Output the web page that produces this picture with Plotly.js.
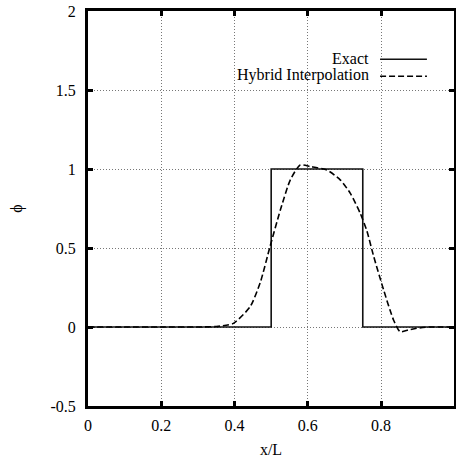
<!DOCTYPE html>
<html>
<head>
<meta charset="utf-8">
<script src="https://cdn.plot.ly/plotly-3.0.1.min.js"></script>
<style>html,body{margin:0;padding:0;background:#fff;}#chart{width:456px;height:459px;}</style>
</head>
<body>
<div id="chart"></div>
<script>
// Exact solution (step)
var exactX = [0, 0.5, 0.5, 0.75, 0.75, 1.0];
var exactY = [0, 0, 1, 1, 0, 0];

// Hybrid interpolation (dashed)
var hybridX = [0, 0.1, 0.2, 0.3, 0.35, 0.397, 0.443, 0.47, 0.497, 0.525, 0.552, 0.579, 0.607, 0.652, 0.689, 0.716, 0.743, 0.761, 0.78, 0.807, 0.834, 0.852, 0.875, 0.898, 0.93, 0.96, 1.0];
var hybridY = [0, 0, 0, 0, 0.003, 0.023, 0.13, 0.28, 0.51, 0.74, 0.93, 1.025, 1.015, 0.994, 0.93, 0.846, 0.72, 0.61, 0.445, 0.234, 0.044, -0.03, -0.018, -0.008, 0, 0, 0];

var xTicks = [0, 0.2, 0.4, 0.6, 0.8];
var yTicks = [-0.5, 0, 0.5, 1, 1.5, 2];

var legendNames = ['Exact', 'Hybrid Interpolation'];

var font = '"Liberation Serif", "Times New Roman", serif';
var fs = 16;

var traces = [
  {x: exactX, y: exactY, mode: 'lines', name: legendNames[0], line: {color: '#111', width: 1.6}, showlegend: false},
  {x: hybridX, y: hybridY, mode: 'lines', name: legendNames[1], line: {color: '#000', width: 1.6, dash: '6px,3px', shape: 'spline', smoothing: 0.6}, showlegend: false}
];

var axisCommon = {
  showline: true, linewidth: 3, linecolor: '#000', mirror: 'allticks',
  ticks: 'inside', ticklen: 5, tickwidth: 3, tickcolor: '#000',
  showgrid: true, gridcolor: '#777', gridwidth: 1, griddash: '1px,2px',
  zeroline: false, tickfont: {family: font, size: fs, color: '#000'}
};

var layout = {
  width: 456, height: 459,
  margin: {l: 88, r: 2, t: 11, b: 53},
  paper_bgcolor: '#fff', plot_bgcolor: '#fff',
  showlegend: false,
  xaxis: Object.assign({}, axisCommon, {
    range: [0, 0.999], tickvals: xTicks, ticktext: xTicks.map(String),
    ticklabelstandoff: 3,
    title: {text: 'x/L', font: {family: font, size: fs, color: '#000'}, standoff: 11}
  }),
  yaxis: Object.assign({}, axisCommon, {
    range: [-0.5, 2], tickvals: yTicks, ticktext: yTicks.map(String),
    ticklabelstandoff: 6,
    title: {text: 'ϕ', font: {family: font, size: fs, color: '#000'}, standoff: 24}
  }),
  annotations: [
    {xref: 'paper', yref: 'paper', x: 0.772, y: 0.880, xanchor: 'right', yanchor: 'middle', text: legendNames[0], showarrow: false, font: {family: font, size: fs, color: '#000'}},
    {xref: 'paper', yref: 'paper', x: 0.772, y: 0.837, xanchor: 'right', yanchor: 'middle', text: legendNames[1], showarrow: false, font: {family: font, size: fs, color: '#000'}}
  ],
  shapes: [
    {type: 'line', xref: 'paper', yref: 'paper', x0: 0.798, x1: 0.926, y0: 0.878, y1: 0.878, line: {color: '#111', width: 1.6}},
    {type: 'line', xref: 'paper', yref: 'paper', x0: 0.798, x1: 0.926, y0: 0.835, y1: 0.835, line: {color: '#000', width: 1.6, dash: '6px,3px'}}
  ]
};

Plotly.newPlot('chart', traces, layout, {displayModeBar: false, staticPlot: true});
</script>
</body>
</html>
